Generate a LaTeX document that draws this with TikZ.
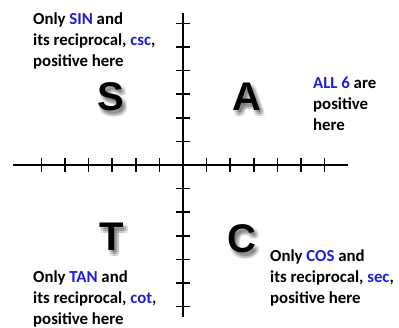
\documentclass[tikz,border=0pt]{standalone}
\usepackage{fontspec}
\setmainfont{Carlito}
\newfontfamily\letterfont{Liberation Sans}
\usetikzlibrary{positioning}
\definecolor{trigblue}{RGB}{30,30,215}

% big quadrant letter with a soft shadow: name, x, y, letter
\newcommand{\quadletter}[4]{%
  \foreach \dx in {1,3,5} {
    \foreach \dy in {2,4,6} {
      \node[shade] (#1-\dx-\dy) at (#2+\dx,#3+\dy) {#4};
    }
  }
  \node[letter] (#1) at (#2,#3) {#4};}

\begin{document}
\begin{tikzpicture}[x=1pt, y=-1pt,
        % Quadrant notes: bold, left aligned
        note/.style={anchor=north west, inner sep=0pt, align=left,
            font=\fontsize{16.8}{21}\selectfont\bfseries},
        % Quadrant letters and their shadow copies
        letter/.style={inner sep=0pt,
            font=\letterfont\fontsize{40}{40}\selectfont\bfseries},
        shade/.style={letter, text=black, opacity=0.08},
        axis/.style={line width=2.6pt},
        tick/.style={line width=1.6pt},
        ]

    \useasboundingbox (0,0) rectangle (399,327);

    % Tick spacing along both axes
    \def\tickstep{23.6}

    % === Axes ===
    \coordinate (o) at (183,165);
    \coordinate (xl) at (13,165);
    \coordinate (xr) at (348,165);
    \coordinate (yt) at (183,13);
    \coordinate (yb) at (183,317);
    \draw[axis] (xl) -- (xr);
    \draw[axis] (yt) -- (yb);
    \foreach \i in {1,...,6} {
        \foreach \s in {-1,1} {
            \draw[tick] ([shift={(\s*\i*\tickstep,-7)}]o) -- ([shift={(\s*\i*\tickstep,7)}]o);
            \draw[tick] ([shift={(-7,\s*\i*\tickstep)}]o) -- ([shift={(7,\s*\i*\tickstep)}]o);
        }
    }

    % === Quadrant letters ===
    \quadletter{S}{111}{97}{S}
    \quadletter{A}{247}{97}{A}
    \quadletter{T}{112}{237}{T}
    \quadletter{C}{242}{239}{C}

    % === Quadrant notes ===
    \node[note] (sin) at (33,13) {Only \textcolor{trigblue}{SIN} and\\its reciprocal, \textcolor{trigblue}{csc},\\positive here};
    \node[note] (all) at (313,77) {\textcolor{trigblue}{ALL 6} are\\positive\\here};
    \node[note] (tan) at (33,271) {Only \textcolor{trigblue}{TAN} and\\its reciprocal, \textcolor{trigblue}{cot},\\positive here};
    \node[note] (cos) at (270,250) {Only \textcolor{trigblue}{COS} and\\its reciprocal, \textcolor{trigblue}{sec},\\positive here};

\end{tikzpicture}
\end{document}
